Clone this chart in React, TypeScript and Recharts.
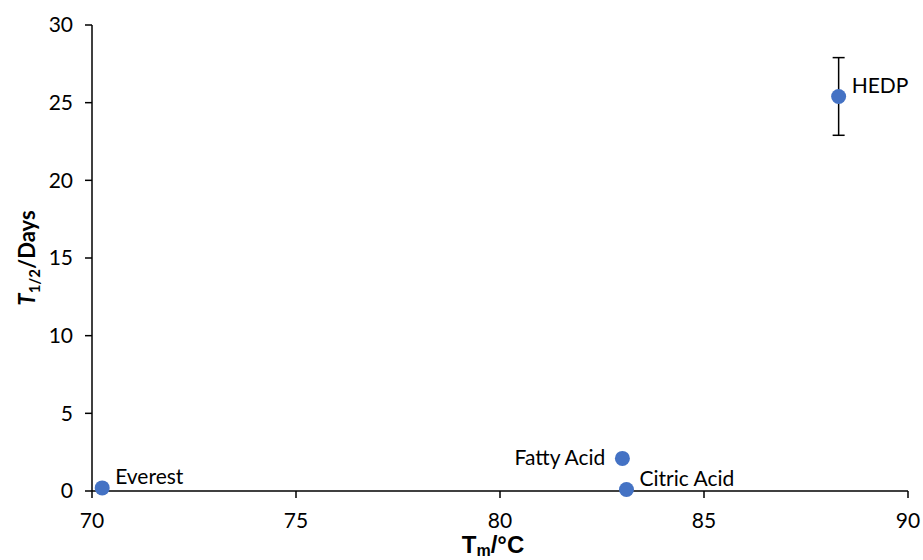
import { ScatterChart, Scatter, XAxis, YAxis, ErrorBar, Label } from "recharts"

const NAMES = ["Everest", "Fatty Acid", "Citric Acid", "HEDP"]
const TM = [70.25, 83.0, 83.1, 88.3]
const HALF_LIFE = [0.2, 2.1, 0.1, 25.4]
const HALF_LIFE_ERR = [null, null, null, 2.5]
const X_TICKS = [70, 75, 80, 85, 90]
const Y_TICKS = [0, 5, 10, 15, 20, 25, 30]

const data = NAMES.map((name, i) => ({
  name,
  tm: TM[i],
  t: HALF_LIFE[i],
  err: HALF_LIFE_ERR[i],
}))

const FONT = "Lato, 'Open Sans', sans-serif"
const ARIAL = "'Liberation Sans', Arial, sans-serif"
const DOT = "#4472C4"

// dot plus its text label; Fatty Acid sits to the left of its point
function Point(props: any) {
  const { cx, cy, payload } = props
  const left = payload.name === "Fatty Acid"
  return (
    <g>
      <circle cx={cx} cy={cy} r={7.5} fill={DOT} />
      <text
        x={left ? cx - 17 : cx + 13}
        y={left ? cy - 1 : cy - 11}
        dy="0.35em"
        textAnchor={left ? "end" : "start"}
        fontFamily={FONT}
        fontSize={21}
        fill="#000"
      >
        {payload.name}
      </text>
    </g>
  )
}

function YTitle(props: any) {
  const vb = props.viewBox
  const cy = vb.y + vb.height / 2
  const cx = vb.x + 27
  return (
    <text
      transform={`translate(${cx},${cy}) rotate(-90)`}
      textAnchor="middle"
      dy="0.35em"
      fontFamily={FONT}
      fontWeight="bold"
      fontSize={22}
      fill="#000"
    >
      <tspan fontStyle="italic">T</tspan>
      <tspan fontSize={15} dy={5}>1/2</tspan>
      <tspan dy={-5}>/Days</tspan>
    </text>
  )
}

function XTitle(props: any) {
  const vb = props.viewBox
  return (
    <text
      x={vb.x + vb.width / 2 - 7}
      y={vb.y + 62}
      textAnchor="middle"
      fontFamily={ARIAL}
      fontWeight="bold"
      fontSize={24}
      fill="#000"
    >
      <tspan>T</tspan>
      <tspan fontSize={16} dy={3}>m</tspan>
      <tspan dy={-3}>/°C</tspan>
    </text>
  )
}

export default function App() {
  return (
    <div style={{ position: "absolute", left: 0, top: 0, background: "#fff" }}>
      <ScatterChart
        width={923}
        height={560}
        margin={{ top: 25, right: 15, bottom: 0, left: 0 }}
      >
        <XAxis
          type="number"
          dataKey="tm"
          domain={[70, 90]}
          ticks={X_TICKS}
          height={69}
          stroke="#000"
          strokeWidth={1.5}
          tickSize={7}
          tickMargin={15}
          tick={{ fill: "#000", fontSize: 21, fontFamily: FONT }}
        >
          <Label content={XTitle} />
        </XAxis>
        <YAxis
          type="number"
          dataKey="t"
          domain={[0, 30]}
          ticks={Y_TICKS}
          width={92}
          stroke="#000"
          strokeWidth={1.5}
          tickSize={7}
          tickMargin={12}
          tick={{ fill: "#000", fontSize: 21, fontFamily: FONT }}
        >
          <Label content={YTitle} />
        </YAxis>
        <Scatter data={data} shape={Point} isAnimationActive={false}>
          <ErrorBar dataKey="err" direction="y" width={6} stroke="#000" strokeWidth={1.5} />
        </Scatter>
      </ScatterChart>
    </div>
  )
}
